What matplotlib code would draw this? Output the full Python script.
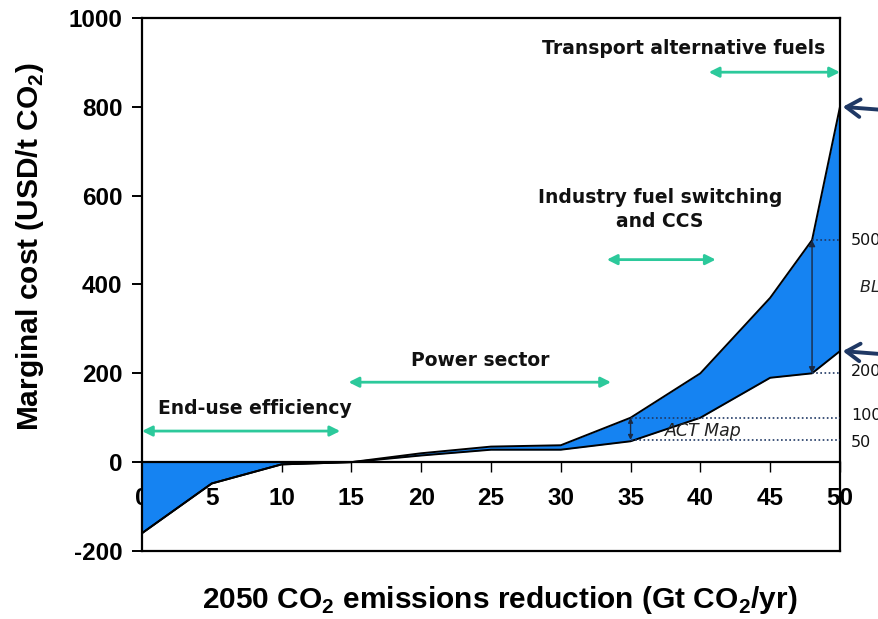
import matplotlib
matplotlib.use("Agg")
import matplotlib.pyplot as plt
from matplotlib import font_manager as fm
import numpy as np

plt.rcParams['axes.unicode_minus'] = False

# Data
x_vals = [0, 5, 10, 15, 20, 25, 30, 35, 40, 45, 48, 50]
act_map = [-160, -48, -5, 0, 15, 28, 28, 47, 100, 190, 200, 250]
blue_map = [-160, -48, -5, 0, 20, 35, 38, 100, 200, 370, 500, 800]
x_ticks = [0, 5, 10, 15, 20, 25, 30, 35, 40, 45, 50]
y_ticks = [-200, 0, 200, 400, 600, 800, 1000]

sectors = ["End-use efficiency", "Power sector", "Industry fuel switching\nand CCS",
           "Transport alternative fuels"]
sector_text_pos = [(8.1, 120), (24.2, 228), (37.1, 569), (38.8, 932)]
sector_arrow_x = [(0, 14.2), (14.8, 33.6), (33.3, 41.1), (40.6, 50)]
sector_arrow_y = [70, 180, 456, 878]

right_labels = ["500", "200", "100", "50"]
right_label_y = [500, 205, 106, 45]

# find regular-width Liberation Sans Bold
bold_path = None
for f in fm.findSystemFonts():
    if f.endswith("LiberationSans-Bold.ttf"):
        bold_path = f
        break


def bfont(size):
    if bold_path:
        return fm.FontProperties(fname=bold_path, size=size)
    return fm.FontProperties(family="Liberation Sans", weight="bold", size=size)


if bold_path:
    fm.fontManager.addfont(bold_path)
    plt.rcParams['mathtext.fontset'] = 'custom'
    plt.rcParams['mathtext.rm'] = 'Liberation Sans:bold'
    plt.rcParams['mathtext.bf'] = 'Liberation Sans:bold'

fig = plt.figure(figsize=(8.79, 6.19), dpi=100)
ax = fig.add_axes([0.1615, 0.1099, 0.9556 - 0.1615, 0.9709 - 0.1099])

x = np.array(x_vals, float)
lo = np.array(act_map, float)
hi = np.array(blue_map, float)

fill_c = "#1583f2"
ax.fill_between(x, lo, hi, color=fill_c, lw=0, zorder=2)
ax.fill_between(x, lo, 0, where=lo < 0, interpolate=True, color=fill_c, lw=0, zorder=2)
ax.plot(x, lo, color="black", lw=1.4, zorder=3)
ax.plot(x, hi, color="black", lw=1.4, zorder=3)

ax.set_xlim(0, 50)
ax.set_ylim(-200, 1000)

# axes frame
for s in ax.spines.values():
    s.set_linewidth(1.6)
ax.spines['bottom'].set_position(('data', 0))
ax.spines['bottom'].set_zorder(4)
ax.plot([0, 1], [0, 0], transform=ax.transAxes, color="black", lw=1.6, clip_on=False, zorder=5)

ax.set_xticks(x_ticks)
ax.set_yticks(y_ticks)
ax.tick_params(axis='x', direction='out', length=7, width=1, pad=11)
ax.tick_params(axis='y', direction='out', length=7, width=1.4, pad=7)
for lab in ax.get_xticklabels() + ax.get_yticklabels():
    lab.set_fontproperties(bfont(17.5))
    lab.set_zorder(6)

ax.set_xlabel("2050 CO$_2$ emissions reduction (Gt CO$_2$/yr)", fontproperties=bfont(21.5))
ax.xaxis.set_label_coords(0.513, -0.062)
ax.set_ylabel("Marginal cost (USD/t CO$_2$)", fontproperties=bfont(21.5))
ax.yaxis.set_label_coords(-0.137, 0.57)

# dotted reference lines
navy = "#1f3864"
ax.plot([48, 50], [500, 500], ls=(0, (1, 1.5)), color=navy, lw=1.2, zorder=3)
ax.plot([48, 50], [200, 200], ls=(0, (1, 1.5)), color=navy, lw=1.2, zorder=3)
ax.plot([35, 50], [100, 100], ls=(0, (1, 1.5)), color=navy, lw=1.2, zorder=3)
ax.plot([35, 50], [49, 49], ls=(0, (1, 1.5)), color=navy, lw=1.2, zorder=3)

# vertical arrows
ax.annotate("", xy=(35, 50), xytext=(35, 100),
            arrowprops=dict(arrowstyle="<|-|>", color="#1a2a44", lw=1, mutation_scale=7,
                            shrinkA=0, shrinkB=0), zorder=4)
ax.annotate("", xy=(48, 200), xytext=(48, 500),
            arrowprops=dict(arrowstyle="<|-|>", color="#1a2a44", lw=1, mutation_scale=9,
                            shrinkA=0, shrinkB=0), zorder=4)

# green sector arrows and labels
green = "#2cc99b"
for (t, (tx, ty), (xa, xb), ya) in zip(sectors, sector_text_pos, sector_arrow_x, sector_arrow_y):
    ax.annotate("", xy=(xb, ya), xytext=(xa, ya),
                arrowprops=dict(arrowstyle="<|-|>", color=green, lw=2, mutation_scale=15,
                                shrinkA=0, shrinkB=0), annotation_clip=False, zorder=4)
    ax.text(tx, ty, t, ha="center", va="center", fontsize=13.5, fontweight="bold",
            fontfamily="DejaVu Sans", color="#111111", linespacing=1.3, zorder=5)

# right side labels
for lab, yv in zip(right_labels, right_label_y):
    ax.text(50.8, yv, lab, ha="left", va="center", fontsize=11.5, fontfamily="DejaVu Sans",
            color="#111111", clip_on=False)
ax.text(51.4, 393, "BLUE Map", ha="left", va="center", fontsize=11.5, style="italic",
        fontfamily="DejaVu Sans", color="#222222", clip_on=False)
ax.text(40.2, 70, "ACT Map", ha="center", va="center", fontsize=12.5, style="italic",
        fontfamily="DejaVu Sans", color="#222222", zorder=5)

# navy arrows from the right
for yv in [800, 250]:
    ax.annotate("", xy=(50.2, yv), xytext=(53.5, yv - 8),
                arrowprops=dict(arrowstyle="->,head_length=0.7,head_width=0.45", color=navy, lw=2.8,
                                mutation_scale=14, shrinkA=0, shrinkB=0),
                annotation_clip=False)

fig.savefig("out.png", dpi=100)
